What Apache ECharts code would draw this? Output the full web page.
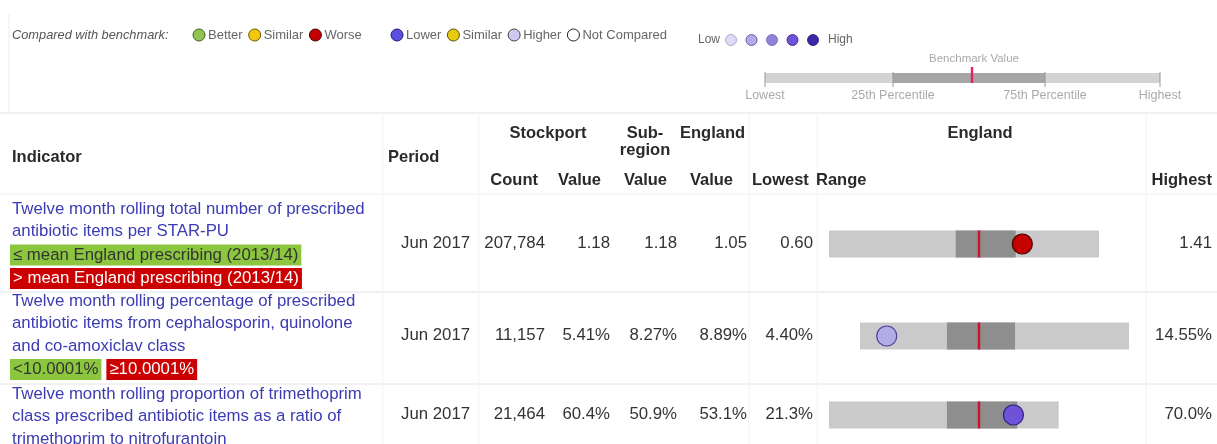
<!DOCTYPE html>
<html>
<head>
<meta charset="utf-8">
<title>Antibiotic prescribing - Stockport</title>
<script src="https://cdn.jsdelivr.net/npm/echarts@6/dist/echarts.min.js"></script>
<style>
  html, body { margin: 0; padding: 0; background: #fff; }
  #chart { width: 1217px; height: 444px; }
</style>
</head>
<body>
<div id="chart"></div>
<script>
// table data
var indicatorLines = [
  ['Twelve month rolling total number of prescribed', 'antibiotic items per STAR-PU'],
  ['Twelve month rolling percentage of prescribed', 'antibiotic items from cephalosporin, quinolone', 'and co-amoxiclav class'],
  ['Twelve month rolling proportion of trimethoprim', 'class prescribed antibiotic items as a ratio of', 'trimethoprim to nitrofurantoin']
];
var targetLabels = [
  ['≤ mean England prescribing (2013/14)', '> mean England prescribing (2013/14)'],
  ['<10.0001%', '≥10.0001%'],
  []
];
var periods = ['Jun 2017', 'Jun 2017', 'Jun 2017'];
var counts = [207784, 11157, 21464];
var localValues = [1.18, 5.41, 60.4];
var subregionValues = [1.18, 8.27, 50.9];
var englandValues = [1.05, 8.89, 53.1];
var lowestValues = [0.60, 4.40, 21.3];
var highestValues = [1.41, 14.55, 70.0];
var q25Values = [0.98, 7.68, 46.3];
var q75Values = [1.16, 10.25, 61.2];
var decimals = [2, 2, 1];
var units = ['', '%', '%'];
var markerGroups = ['Worse', 'q2', 'q4'];

// legend / key
var benchmarkKeys = ['Better', 'Similar', 'Worse'];
var polarityKeys = ['Lower', 'Similar2', 'Higher', 'Not Compared'];
var quintileKeys = ['q1', 'q2', 'q3', 'q4', 'q5'];
var keyStops = [0, 32.4, 52.4, 70.9, 100];
var keyLabels = ['Lowest', '25th Percentile', '75th Percentile', 'Highest'];

var colors = {
  Better: ['#92c353', '#3f5f1c'], Similar: ['#f2c80f', '#6b5800'], Worse: ['#c40000', '#4a0000'],
  Lower: ['#5b4fe0', '#231a78'], Similar2: ['#e6cc10', '#5c5200'], Higher: ['#cdc9f0', '#444'],
  'Not Compared': ['#ffffff', '#222'],
  q1: ['#dedaf4', '#9994c0'], q2: ['#b3abe6', '#4b3f9e'], q3: ['#8e84d6', '#6a60b0'],
  q4: ['#6e52d8', '#2d1f80'], q5: ['#3a28a8', '#20166a']
};

var FONT = "'Liberation Sans', Arial, Helvetica, sans-serif";
function font(size, weight, style) {
  return (style || 'normal') + ' ' + (weight || 'normal') + ' ' + size + 'px ' + FONT;
}
var measureCtx = document.createElement('canvas').getContext('2d');
function textWidth(s, f) { measureCtx.font = f; return measureCtx.measureText(s).width; }

function txt(x, y, s, f, fill, align, extra) {
  var style = { text: s, font: f, fill: fill || '#333', align: align || 'left', verticalAlign: 'middle' };
  if (extra) for (var k in extra) style[k] = extra[k];
  return { type: 'text', x: x, y: y, silent: true, style: style };
}
function line(x1, y1, x2, y2, c) {
  return { type: 'line', silent: true, shape: { x1: x1, y1: y1, x2: x2, y2: y2 }, style: { stroke: c || '#e6e6e6', lineWidth: 1 } };
}
function fmt(v, i) { return v.toFixed(decimals[i]) + units[i]; }

var graphics = [];

// legend row
var legendFont = font(13);
var legendY = 35;
graphics.push(txt(12, legendY, 'Compared with benchmark:', font(12.8, 'normal', 'italic'), '#555'));
function flowKeys(keys, startX, labelOf) {
  var cx = startX;
  keys.forEach(function (k) {
    var label = labelOf ? labelOf(k) : k;
    graphics.push({ type: 'circle', silent: true, shape: { cx: cx, cy: legendY, r: 6 },
      style: { fill: colors[k][0], stroke: colors[k][1], lineWidth: 1 } });
    graphics.push(txt(cx + 9, legendY, label, legendFont, '#666'));
    cx = cx + 9 + textWidth(label, legendFont) + 12;
  });
}
flowKeys(benchmarkKeys, 199);
flowKeys(polarityKeys, 397, function (k) { return k === 'Similar2' ? 'Similar' : k; });
var qx = 698;
graphics.push(txt(qx, 40, 'Low', font(12), '#666'));
var qcx = qx + textWidth('Low', font(12)) + 11;
quintileKeys.forEach(function (k, i) {
  graphics.push({ type: 'circle', silent: true, shape: { cx: qcx + i * 20.5, cy: 40, r: 5.5 },
    style: { fill: colors[k][0], stroke: colors[k][1], lineWidth: 0.8 } });
});
graphics.push(txt(qcx + 4 * 20.5 + 15, 40, 'High', font(12), '#666'));

// separators
graphics.push(line(0, 113, 1217, 113, '#e2e2e2'));
graphics.push(line(9, 14, 9, 113, '#ececec'));
graphics.push(line(0, 194, 1217, 194, '#eeeeee'));
graphics.push(line(0, 292, 1217, 292, '#e4e4e4'));
graphics.push(line(0, 384, 1217, 384, '#e4e4e4'));
[383, 479, 749, 817, 1146].forEach(function (x) { graphics.push(line(x, 114, x, 444, '#f3f3f3')); });

// header
var hf = font(16.5, 'bold');
var hc = '#2a2a2a';
graphics.push(txt(12, 157, 'Indicator', hf, hc));
graphics.push(txt(388, 157, 'Period', hf, hc));
graphics.push(txt(548, 133, 'Stockport', hf, hc, 'center'));
graphics.push(txt(645, 133, 'Sub-', hf, hc, 'center'));
graphics.push(txt(645, 150, 'region', hf, hc, 'center'));
graphics.push(txt(680, 133, 'England', hf, hc));
graphics.push(txt(980, 133, 'England', hf, hc, 'center'));
graphics.push(txt(538, 180, 'Count', hf, hc, 'right'));
graphics.push(txt(601, 180, 'Value', hf, hc, 'right'));
graphics.push(txt(667, 180, 'Value', hf, hc, 'right'));
graphics.push(txt(733, 180, 'Value', hf, hc, 'right'));
graphics.push(txt(752, 180, 'Lowest', hf, hc));
graphics.push(txt(816, 180, 'Range', hf, hc));
graphics.push(txt(1212, 180, 'Highest', hf, hc, 'right'));

// body rows
var rowY = [244, 336, 415];
var textTop = [209, 301, 394];
var bf = font(16.8);
var linkColor = '#3b3bb3';
indicatorLines.forEach(function (lines, i) {
  var y = textTop[i];
  lines.forEach(function (s, j) { graphics.push(txt(12, y + j * 22.5, s, bf, linkColor)); });
  var by = y + lines.length * 22.5 + 1;
  var bx = 10;
  targetLabels[i].forEach(function (s, j) {
    var good = j === 0;
    graphics.push(txt(bx, by, s, bf, good ? '#333' : '#fff', 'left',
      { backgroundColor: good ? '#8cc63f' : '#cc0000', padding: [2, 3, 2, 3] }));
    if (i === 0) { by += 23.5; } else { bx += textWidth(s, bf) + 11; }
  });
  var y0 = rowY[i] - 1;
  graphics.push(txt(401, y0, periods[i], bf, '#333'));
  graphics.push(txt(545, y0, counts[i].toLocaleString('en-GB'), bf, '#333', 'right'));
  graphics.push(txt(610, y0, fmt(localValues[i], i), bf, '#333', 'right'));
  graphics.push(txt(677, y0, fmt(subregionValues[i], i), bf, '#333', 'right'));
  graphics.push(txt(747, y0, fmt(englandValues[i], i), bf, '#333', 'right'));
  graphics.push(txt(813, y0, fmt(lowestValues[i], i), bf, '#333', 'right'));
  graphics.push(txt(1212, y0, fmt(highestValues[i], i), bf, '#333', 'right'));
});

// spine charts: one grid per indicator, England value in the middle
var spineLeft = 829, spineWidth = 300, barH = 27;
var grids = [], xAxes = [], yAxes = [], series = [];

function spineRender(params, api) {
  var cs = params.coordSys;
  var xs = [0, 1, 2, 3, 4].map(function (d) { return api.coord([api.value(d), 0])[0]; });
  return {
    type: 'group',
    children: [
      { type: 'rect', shape: { x: xs[0], y: cs.y, width: xs[4] - xs[0], height: cs.height }, style: { fill: '#cacaca' } },
      { type: 'rect', shape: { x: xs[1], y: cs.y, width: xs[3] - xs[1], height: cs.height }, style: { fill: '#8e8e8e' } },
      { type: 'rect', shape: { x: xs[2] - 1.2, y: cs.y, width: 2.4, height: cs.height }, style: { fill: '#d3102a' } }
    ]
  };
}

englandValues.forEach(function (eng, i) {
  var span = Math.max(eng - lowestValues[i], highestValues[i] - eng);
  grids.push({ left: spineLeft, top: rowY[i] - barH / 2, width: spineWidth, height: barH });
  xAxes.push({ gridIndex: i, type: 'value', min: eng - span, max: eng + span, show: false });
  yAxes.push({ gridIndex: i, type: 'category', data: ['row'], show: false });
  series.push({
    type: 'custom', xAxisIndex: i, yAxisIndex: i, clip: false, silent: true,
    data: [[lowestValues[i], q25Values[i], eng, q75Values[i], highestValues[i]]],
    encode: { x: [0, 4] },
    renderItem: spineRender
  });
  var mc = colors[markerGroups[i]];
  series.push({
    type: 'scatter', xAxisIndex: i, yAxisIndex: i, silent: true, z: 5,
    data: [[localValues[i], 0]], symbolSize: 20,
    itemStyle: { color: mc[0], borderColor: mc[1], borderWidth: 1.2, opacity: 1 }
  });
});

// key spine at the top
var keyIdx = grids.length;
grids.push({ left: 765, top: 73, width: 395, height: 10 });
xAxes.push({ gridIndex: keyIdx, type: 'value', min: 0, max: 100, show: false });
yAxes.push({ gridIndex: keyIdx, type: 'category', data: ['key'], show: false });
series.push({
  type: 'custom', xAxisIndex: keyIdx, yAxisIndex: keyIdx, clip: false, silent: true,
  data: [keyStops],
  encode: { x: [0, 4] },
  renderItem: function (params, api) {
    var cs = params.coordSys;
    var xs = [0, 1, 2, 3, 4].map(function (d) { return api.coord([api.value(d), 0])[0]; });
    var kids = [
      { type: 'rect', shape: { x: xs[0], y: cs.y, width: xs[4] - xs[0], height: cs.height }, style: { fill: '#d3d3d3' } },
      { type: 'rect', shape: { x: xs[1], y: cs.y, width: xs[3] - xs[1], height: cs.height }, style: { fill: '#a6a6a6' } }
    ];
    [0, 1, 3, 4].forEach(function (d, j) {
      kids.push({ type: 'line', shape: { x1: xs[d], y1: cs.y - 1, x2: xs[d], y2: cs.y + cs.height + 4 }, style: { stroke: '#9a9a9a', lineWidth: 1 } });
      kids.push({ type: 'text', x: xs[d], y: cs.y + cs.height + 13,
        style: { text: keyLabels[j], font: font(12.5), fill: '#aaa', align: 'center', verticalAlign: 'middle' } });
    });
    kids.push({ type: 'rect', shape: { x: xs[2] - 1.2, y: cs.y - 6, width: 2.4, height: cs.height + 6 }, style: { fill: '#e0245e' } });
    kids.push({ type: 'text', x: xs[2] + 2, y: cs.y - 14,
      style: { text: 'Benchmark Value', font: font(11.5), fill: '#aaa', align: 'center', verticalAlign: 'middle' } });
    return { type: 'group', children: kids };
  }
});

var myChart = echarts.init(document.getElementById('chart'), null, { renderer: 'canvas' });
myChart.setOption({
  backgroundColor: '#fff',
  animation: false,
  grid: grids,
  xAxis: xAxes,
  yAxis: yAxes,
  series: series,
  graphic: { elements: graphics }
});
</script>
</body>
</html>
